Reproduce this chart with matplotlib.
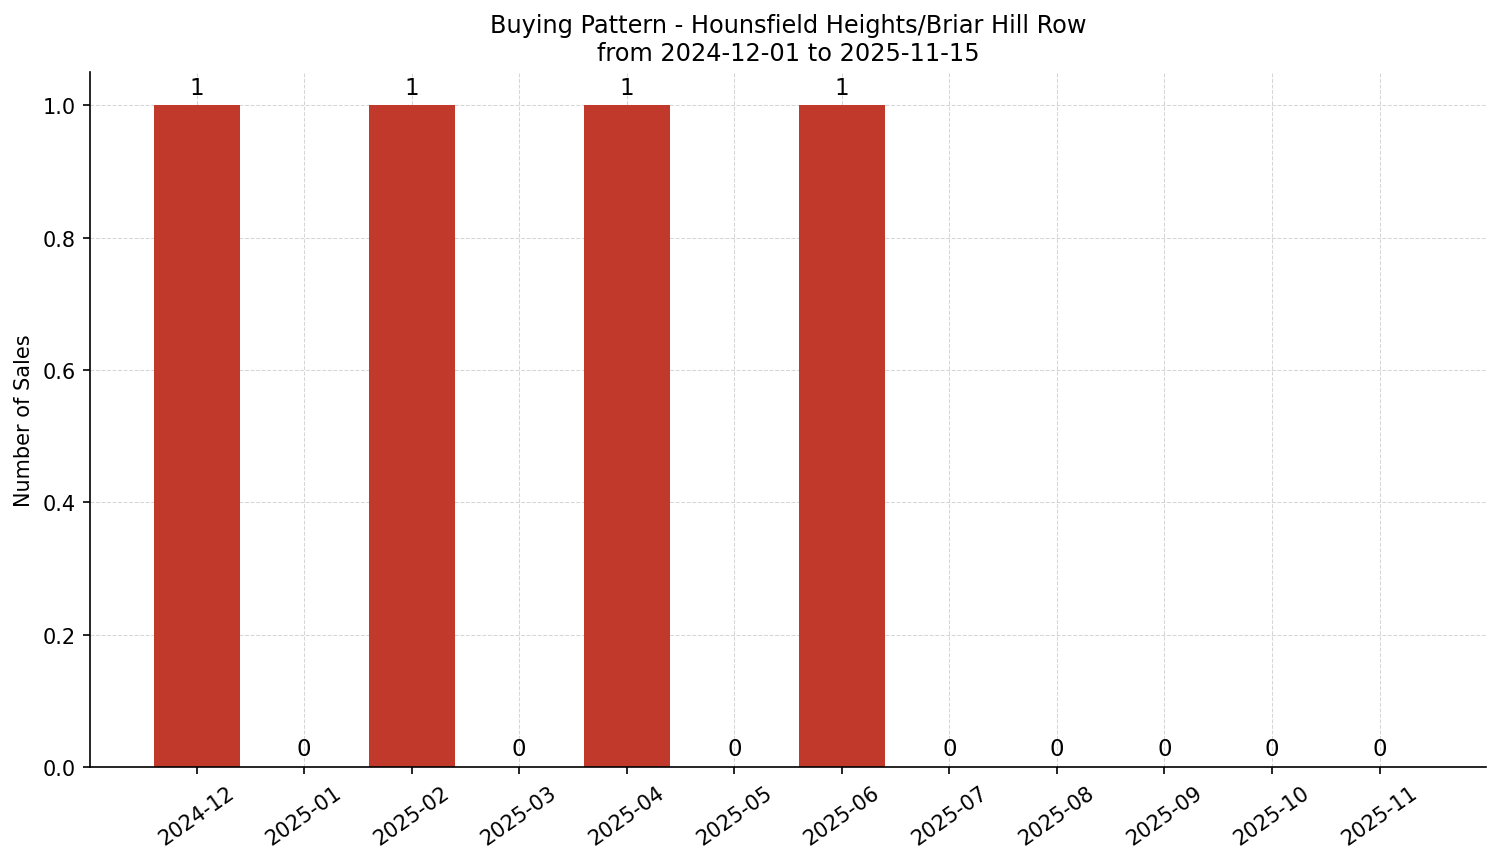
import matplotlib
matplotlib.use("Agg")
import matplotlib.pyplot as plt

months = ["2024-12","2025-01","2025-02","2025-03","2025-04","2025-05",
          "2025-06","2025-07","2025-08","2025-09","2025-10","2025-11"]
sales = [1,0,1,0,1,0,1,0,0,0,0,0]

fig, ax = plt.subplots(figsize=(10.007, 5.753), dpi=150)
x = list(range(len(months)))
bars = ax.bar(x, sales, width=0.8, color="#c0392b", zorder=2)
for xi, v in zip(x, sales):
    ax.text(xi, v + 0.01, str(v), ha="center", va="bottom", fontsize=11)
ax.set_xticks(x)
ax.set_xticklabels(months, rotation=35)
ax.set_ylabel("Number of Sales")
ax.set_title("Buying Pattern - Hounsfield Heights/Briar Hill Row\nfrom 2024-12-01 to 2025-11-15", fontsize=11.5)
ax.set_ylim(0, 1.05)
ax.grid(True, linestyle="--", linewidth=0.5, color="#cccccc", alpha=0.8, zorder=3)
ax.spines["top"].set_visible(False)
ax.spines["right"].set_visible(False)
fig.subplots_adjust(left=0.06, right=0.99, top=0.915, bottom=0.11)
fig.savefig("out.png", dpi=150)
